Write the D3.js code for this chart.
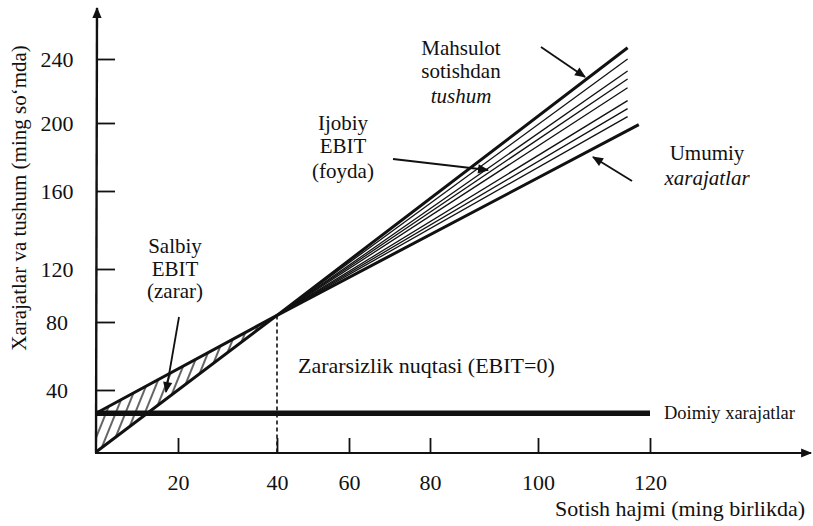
<!DOCTYPE html>
<html>
<head>
<meta charset="utf-8">
<script src="https://cdn.jsdelivr.net/npm/d3@7"></script>
<style>
  html, body { margin: 0; padding: 0; background: #fff; }
  svg { display: block; }
  svg text { font-family: "Liberation Serif", "Times New Roman", "DejaVu Serif", serif; fill: #111; }
</style>
</head>
<body>
<svg id="chart" width="813" height="526"></svg>
<script>
// ---------------- DATA ----------------
const xTicks = [20, 40, 60, 80, 100, 120];
const yTicks = [40, 80, 120, 160, 200, 240];
const fixedCost = 25;                        // Doimiy xarajatlar
const fixedCostEnd = 120;
const breakEven = [40, 85];                  // Zararsizlik nuqtasi
const revenue = [[0, 0], [40, 85], [116, 247]];        // Mahsulot sotishdan tushum
const totalCost = [[0, 25], [40, 85], [118, 199]];     // Umumiy xarajatlar
const fanEndX = 116;
const fanEndValues = [240, 232.5, 227.5, 222, 214, 209, 204]; // Ijobiy EBIT hatch lines

// ---------------- LAYOUT ----------------
const W = 813, H = 526;
const ink = "#111";
// hand-drawn diagram: tick marks are not evenly spaced, so the scales are piecewise
const xDomain = [0].concat(xTicks), xRange = [96, 178, 277, 349, 430, 538, 650];
const yDomain = [0].concat(yTicks), yRange = [452, 390, 322, 269, 191, 123, 59];
const x = d3.scaleLinear().domain(xDomain).range(xRange);
const y = d3.scaleLinear().domain(yDomain).range(yRange);

const svg = d3.select("#chart");
svg.append("rect").attr("width", W).attr("height", H).attr("fill", "#fff");

const defs = svg.append("defs");
defs.append("marker").attr("id", "arr").attr("viewBox", "0 0 10 10")
  .attr("refX", 9).attr("refY", 5).attr("markerUnits", "userSpaceOnUse")
  .attr("markerWidth", 13).attr("markerHeight", 11).attr("orient", "auto")
  .append("path").attr("d", "M0,0.8 L10,5 L0,9.2 Z").attr("fill", ink);

const hatch = defs.append("pattern").attr("id", "hatch")
  .attr("patternUnits", "userSpaceOnUse").attr("width", 9).attr("height", 20)
  .attr("patternTransform", "rotate(22)");
hatch.append("line").attr("x1", 1).attr("y1", 0).attr("x2", 1).attr("y2", 20)
  .attr("stroke", ink).attr("stroke-width", 1.3);

const line = d3.line().x(d => x(d[0])).y(d => y(d[1]));

// loss (Salbiy EBIT) hatched triangle
const lossPoly = [[0, 0], [0, fixedCost], breakEven];
svg.append("path").attr("d", line(lossPoly) + "Z").attr("fill", "url(#hatch)");

// profit fan lines
fanEndValues.forEach(v => {
  svg.append("path").attr("d", line([breakEven, [fanEndX, v]]))
    .attr("fill", "none").attr("stroke", ink).attr("stroke-width", 1.3);
});

// revenue and total cost
svg.append("path").attr("d", line(revenue)).attr("fill", "none")
  .attr("stroke", ink).attr("stroke-width", 3).attr("stroke-linejoin", "round");
svg.append("path").attr("d", line(totalCost)).attr("fill", "none")
  .attr("stroke", ink).attr("stroke-width", 3).attr("stroke-linejoin", "round");

// fixed cost
svg.append("path").attr("d", line([[0, fixedCost], [fixedCostEnd, fixedCost]]))
  .attr("fill", "none").attr("stroke", ink).attr("stroke-width", 5.5);

// break-even dashed drop line
svg.append("path").attr("d", line([breakEven, [breakEven[0], 0]]))
  .attr("fill", "none").attr("stroke", ink).attr("stroke-width", 1.6)
  .attr("stroke-dasharray", "4,3");

// axes
const x0 = x(0), y0 = y(0);
svg.append("line").attr("x1", x0).attr("y1", y0 + 1).attr("x2", x0 + 1).attr("y2", 8)
  .attr("stroke", ink).attr("stroke-width", 2.4).attr("marker-end", "url(#arr)");
svg.append("line").attr("x1", x0 - 1).attr("y1", y0 + 1).attr("x2", 811).attr("y2", y0 + 1)
  .attr("stroke", ink).attr("stroke-width", 2).attr("marker-end", "url(#arr)");

const gx = svg.append("g").attr("transform", `translate(0,${y0 + 1})`)
  .call(d3.axisBottom(x).tickValues(xTicks).tickSize(-15).tickPadding(21).tickFormat(d3.format("d")));
gx.select(".domain").remove();
gx.selectAll(".tick line").attr("stroke", ink).attr("stroke-width", 1.8);
gx.selectAll("text").attr("font-size", 22);

const gy = svg.append("g").attr("transform", `translate(${x0 + 1},0)`)
  .call(d3.axisLeft(y).tickValues(yTicks).tickSize(-18).tickFormat(d3.format("d")));
gy.select(".domain").remove();
gy.selectAll(".tick line").attr("stroke", ink).attr("stroke-width", 1.8);
gy.selectAll("text").attr("font-size", 22).attr("text-anchor", "middle").attr("x", -40);

// axis titles
svg.append("text").attr("transform", "translate(26,198) rotate(-90)")
  .attr("text-anchor", "middle").attr("font-size", 21)
  .text("Xarajatlar va tushum (ming so‘mda)");
svg.append("text").attr("x", 805).attr("y", 516).attr("text-anchor", "end")
  .attr("font-size", 22).text("Sotish hajmi (ming birlikda)");

// labels
function block(cx, baselines, lines, size) {
  const t = svg.append("text").attr("font-size", size).attr("text-anchor", "middle");
  lines.forEach((l, i) => {
    t.append("tspan").attr("x", cx).attr("y", baselines[i])
      .attr("font-style", l.italic ? "italic" : null).text(l.t);
  });
}
block(175, [253, 276, 298], [{t: "Salbiy"}, {t: "EBIT"}, {t: "(zarar)"}], 21);
block(343, [130, 153, 178], [{t: "Ijobiy"}, {t: "EBIT"}, {t: "(foyda)"}], 21);
block(461, [55, 78, 103], [{t: "Mahsulot"}, {t: "sotishdan"}, {t: "tushum", italic: true}], 21);
block(707, [160, 185], [{t: "Umumiy"}, {t: "xarajatlar", italic: true}], 21);

svg.append("text").attr("x", 298).attr("y", 373).attr("font-size", 22)
  .text("Zararsizlik nuqtasi (EBIT=0)");
svg.append("text").attr("x", 664).attr("y", 419).attr("font-size", 18.5)
  .text("Doimiy xarajatlar");

// annotation arrows
const arrows = [
  [[179, 317], [166, 392]],
  [[393, 159], [488, 170]],
  [[541, 47], [585, 77]],
  [[632, 181], [593, 157]]
];
arrows.forEach(a => {
  svg.append("line").attr("x1", a[0][0]).attr("y1", a[0][1])
    .attr("x2", a[1][0]).attr("y2", a[1][1])
    .attr("stroke", ink).attr("stroke-width", 1.8).attr("marker-end", "url(#arr)");
});
</script>
</body>
</html>
